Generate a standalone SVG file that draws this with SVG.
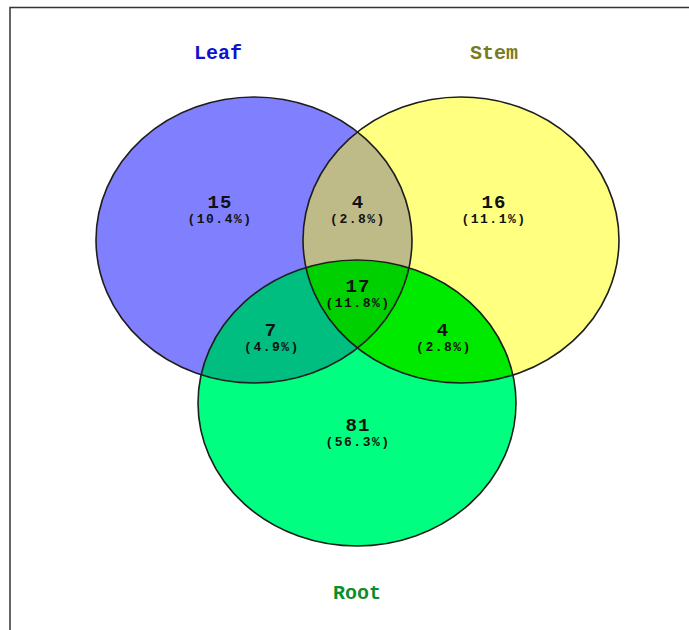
<svg xmlns="http://www.w3.org/2000/svg" width="689" height="630" viewBox="0 0 689 630">
  <defs>
    <clipPath id="clipLeaf"><ellipse cx="254" cy="240" rx="158" ry="143"/></clipPath>
    <clipPath id="clipStem"><ellipse cx="461" cy="240" rx="158" ry="143"/></clipPath>
  </defs>
  <style>
    .num { font-family: "Liberation Mono", "DejaVu Sans Mono", monospace; font-weight: bold; font-size: 19px; letter-spacing: 1px; fill: #111; text-anchor: middle; }
    .pct { font-family: "Liberation Mono", "DejaVu Sans Mono", monospace; font-weight: bold; font-size: 13px; letter-spacing: 1.5px; fill: #111; text-anchor: middle; }
    .lbl { font-family: "Liberation Mono", "DejaVu Sans Mono", monospace; font-weight: bold; font-size: 20px; text-anchor: middle; }
    .outline { fill: none; stroke: #1e1e1e; stroke-width: 1.6; }
  </style>
  <rect x="0" y="0" width="689" height="630" fill="#ffffff"/>
  <path d="M10,630 L10,7.5 L689,7.5" fill="none" stroke="#333" stroke-width="1.5"/>

  <g id="leaf">
    <ellipse cx="254" cy="240" rx="158" ry="143" fill="#8080ff"/>
  </g>
  <g id="stem">
    <ellipse cx="461" cy="240" rx="158" ry="143" fill="#ffff80"/>
  </g>
  <g id="root">
    <ellipse cx="357" cy="403" rx="159" ry="143" fill="#00ff80"/>
  </g>
  <g id="leaf-stem">
    <ellipse cx="461" cy="240" rx="158" ry="143" fill="#bfbb88" clip-path="url(#clipLeaf)"/>
  </g>
  <g id="leaf-root">
    <ellipse cx="357" cy="403" rx="159" ry="143" fill="#00bd80" clip-path="url(#clipLeaf)"/>
  </g>
  <g id="stem-root">
    <ellipse cx="357" cy="403" rx="159" ry="143" fill="#00ea00" clip-path="url(#clipStem)"/>
  </g>
  <g id="leaf-stem-root" clip-path="url(#clipLeaf)">
    <ellipse cx="357" cy="403" rx="159" ry="143" fill="#00cf00" clip-path="url(#clipStem)"/>
  </g>
  <g id="outlines">
    <ellipse class="outline" cx="254" cy="240" rx="158" ry="143"/>
    <ellipse class="outline" cx="461" cy="240" rx="158" ry="143"/>
    <ellipse class="outline" cx="357" cy="403" rx="159" ry="143"/>
  </g>

  <g id="labels">
    <text class="lbl" x="218" y="59" fill="#1010d0">Leaf</text>
    <text class="lbl" x="494" y="59" fill="#7a7a20">Stem</text>
    <text class="lbl" x="357" y="599" fill="#0a8f2e">Root</text>
  </g>
  <g id="counts">
    <text class="num" x="220" y="208">15</text>
    <text class="pct" x="220" y="223">(10.4%)</text>
    <text class="num" x="358" y="208">4</text>
    <text class="pct" x="358" y="223">(2.8%)</text>
    <text class="num" x="494" y="208">16</text>
    <text class="pct" x="494" y="223">(11.1%)</text>
    <text class="num" x="358" y="292">17</text>
    <text class="pct" x="358" y="307">(11.8%)</text>
    <text class="num" x="271" y="336">7</text>
    <text class="pct" x="272" y="351">(4.9%)</text>
    <text class="num" x="443" y="336">4</text>
    <text class="pct" x="444" y="351">(2.8%)</text>
    <text class="num" x="358" y="431">81</text>
    <text class="pct" x="358" y="446">(56.3%)</text>
  </g>
</svg>
